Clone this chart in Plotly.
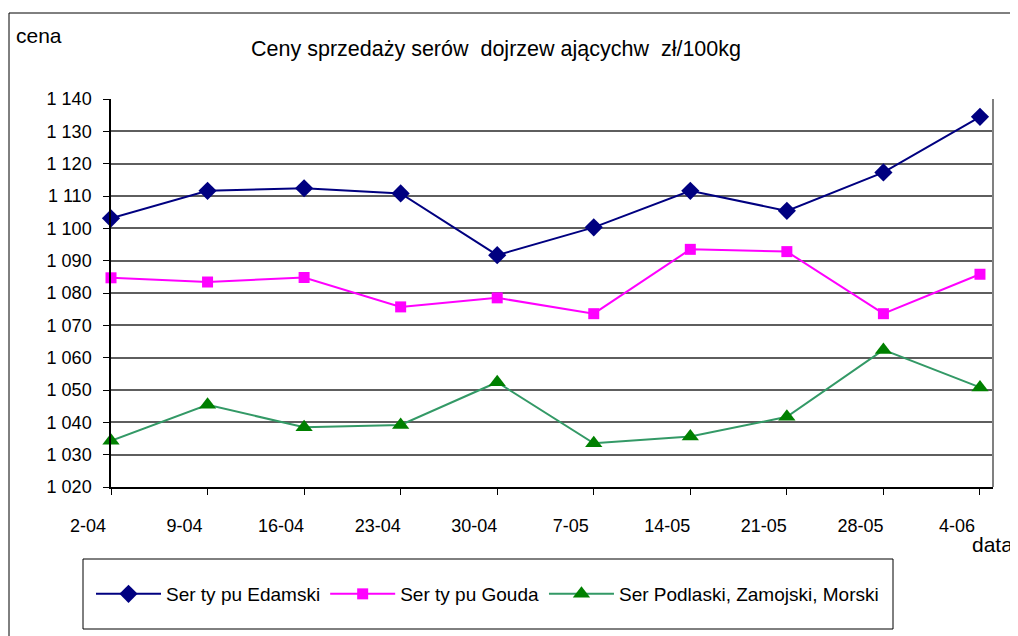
import plotly.graph_objects as go

categories = ["2-04", "9-04", "16-04", "23-04", "30-04", "7-05", "14-05", "21-05", "28-05", "4-06"]
edamski = [1103.1, 1111.6, 1112.4, 1110.8, 1091.7, 1100.3, 1111.6, 1105.4, 1117.3, 1134.5]
gouda = [1084.7, 1083.4, 1084.8, 1075.7, 1078.5, 1073.6, 1093.5, 1092.8, 1073.6, 1085.8]
podlaski = [1034.3, 1045.4, 1038.5, 1039.2, 1052.4, 1033.5, 1035.6, 1041.7, 1062.4, 1050.8]

series_names = ["Ser ty pu Edamski", "Ser ty pu Gouda", "Ser Podlaski, Zamojski, Morski"]
y_ticks = list(range(1020, 1141, 10))

FONT = "Liberation Sans, Arial, sans-serif"
OFF = 8  # page body margin
W, H = 1018 - OFF, 636 - OFF
# plot area in page pixels
L, R, T, B = 111, 993, 99, 487
pw, ph = R - L, B - T


def px_x(p):
    return (p - L) / pw


def px_y(p):
    return (B - p) / ph


xs = list(range(len(categories)))

fig = go.Figure()
fig.add_trace(go.Scatter(
    x=xs, y=edamski, name=series_names[0], mode="lines+markers",
    line=dict(color="#000080", width=2),
    marker=dict(symbol="diamond", size=14, color="#000080"),
    cliponaxis=False))
fig.add_trace(go.Scatter(
    x=xs, y=gouda, name=series_names[1], mode="lines+markers",
    line=dict(color="#FF00FF", width=2),
    marker=dict(symbol="square", size=11, color="#FF00FF"),
    cliponaxis=False))
fig.add_trace(go.Scatter(
    x=xs, y=podlaski, name=series_names[2], mode="lines+markers",
    line=dict(color="#339966", width=2),
    marker=dict(symbol="triangle-up", size=15, color="#008000"),
    cliponaxis=False))

shapes = [
    dict(type="rect", xref="paper", yref="paper",
         x0=px_x(9), x1=px_x(1017), y0=px_y(650), y1=px_y(13),
         line=dict(color="#000000", width=1), fillcolor="rgba(0,0,0,0)", layer="below"),
    dict(type="line", xref="paper", yref="paper", x0=1, x1=1, y0=0, y1=1,
         line=dict(color="#808080", width=2)),
    dict(type="rect", xref="paper", yref="paper",
         x0=px_x(83), x1=px_x(893), y0=px_y(629), y1=px_y(559),
         line=dict(color="#000000", width=1), fillcolor="rgba(0,0,0,0)"),
]

annotations = [
    dict(text="cena", xref="paper", yref="paper", x=px_x(14), y=px_y(36),
         xanchor="left", yanchor="middle", showarrow=False,
         font=dict(family=FONT, size=21, color="#000000")),
    dict(text="data", xref="paper", yref="paper", x=px_x(1015), y=px_y(544),
         xanchor="right", yanchor="middle", showarrow=False,
         font=dict(family=FONT, size=21, color="#000000")),
]

fig.update_layout(
    width=W, height=H,
    margin=dict(l=L - OFF, r=(1018 - R), t=T - OFF, b=(636 - B), pad=0),
    paper_bgcolor="white", plot_bgcolor="white",
    separators=", ",
    font=dict(family=FONT, size=18, color="#000000"),
    title=dict(text="Ceny sprzedaży serów  dojrzew ającychw  zł/100kg",
               x=px_x(496), xref="paper", xanchor="center",
               y=1 - (48 - OFF) / H, yanchor="middle",
               font=dict(family=FONT, size=21.5, color="#000000")),
    showlegend=True,
    legend=dict(orientation="h", x=px_x(91), xanchor="left",
                y=px_y(594), yanchor="middle",
                bgcolor="rgba(0,0,0,0)", borderwidth=0,
                font=dict(family=FONT, size=19, color="#000000"),
                itemwidth=65),
    shapes=shapes,
    annotations=annotations,
)

fig.update_xaxes(
    range=[0, 9.135], tickmode="array", tickvals=xs, ticktext=categories,
    showgrid=False, zeroline=False,
    showline=True, linecolor="#000000", linewidth=1.5,
    ticks="outside", ticklen=6, tickcolor="#000000",
    ticklabelshift=-23, ticklabelstandoff=16,
    tickfont=dict(family=FONT, size=18, color="#000000"),
)
fig.update_yaxes(
    range=[1020, 1140], tickmode="array", tickvals=y_ticks, tickformat=",d",
    showgrid=True, gridcolor="#5e5e5e", gridwidth=1.5, zeroline=False,
    showline=True, linecolor="#000000", linewidth=1.5,
    ticks="outside", ticklen=6, tickcolor="#000000",
    ticklabelstandoff=8,
    tickfont=dict(family=FONT, size=18, color="#000000"),
)

fig.write_html("out.html")
